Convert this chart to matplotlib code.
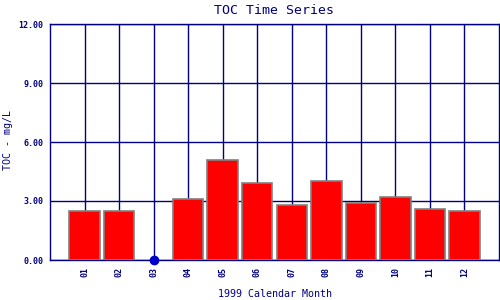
import matplotlib
matplotlib.use("Agg")
import matplotlib.pyplot as plt
import numpy as np

months = ["01", "02", "03", "04", "05", "06", "07", "08", "09", "10", "11", "12"]
toc = [2.5, 2.5, 0.0, 3.1, 5.1, 3.9, 2.8, 4.0, 2.9, 3.2, 2.6, 2.5]
nondetect = [False, False, True, False, False, False, False, False, False, False, False, False]
yticks = [0.0, 3.0, 6.0, 9.0, 12.0]

navy = "#000080"
mono = "DejaVu Sans Mono"

fig = plt.figure(figsize=(5, 3), dpi=100)
ax = fig.add_axes([50/500, 40/300, 449/500, 236/300])

x = np.arange(1, 13)
for xi, v, nd in zip(x, toc, nondetect):
    if nd:
        ax.plot([xi], [v], 'o', color="#0000cc", markersize=6, zorder=5, clip_on=False)
    else:
        ax.bar(xi, v, width=0.88, color="#ff0000", edgecolor="#808080", linewidth=1.2, zorder=3)

ax.set_xlim(0, 13)
ax.set_ylim(0, 12)
ax.set_xticks(x)
ax.set_xticklabels(months, rotation=90, fontsize=6, family=mono, color=navy, fontweight="bold")
ax.set_yticks(yticks)
ax.set_yticklabels([f"{t:.2f}" for t in yticks], fontsize=6, family=mono, color=navy, fontweight="bold")
ax.tick_params(axis="both", length=0, pad=5)
ax.grid(True, color=navy, linewidth=1.0, zorder=1)
ax.set_axisbelow(True)
for s in ax.spines.values():
    s.set_color(navy)
    s.set_linewidth(1.0)

ax.set_title("TOC Time Series", fontsize=9.5, family=mono, color=navy, pad=7)
ax.set_xlabel("1999 Calendar Month", fontsize=7.2, family=mono, color=navy, va="center")
ax.xaxis.set_label_coords(0.5, (260 - 294) / 236)
ax.set_ylabel("TOC - mg/L", fontsize=7.2, family=mono, color=navy, va="center")
ax.yaxis.set_label_coords((8 - 50) / 449, 0.5 + (142 - 140) / 236)

fig.savefig("out.png", dpi=100)
